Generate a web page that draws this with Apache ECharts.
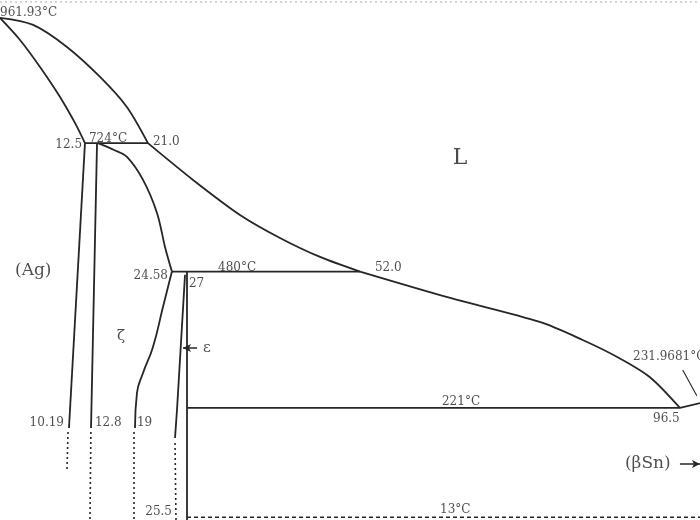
<!DOCTYPE html>
<html>
<head>
<meta charset="utf-8">
<script src="https://cdn.jsdelivr.net/npm/echarts@6/dist/echarts.min.js"></script>
<style>
html,body{margin:0;padding:0;background:#fff;}
#chart{width:700px;height:520px;}
</style>
</head>
<body>
<div id="chart"></div>
<script>
// x: at.% Sn, y: temperature (°C)
const liquidusAg = [[0,961.93],[4.7,948.6],[9.5,906.8],[14.2,849.8],[18.0,792.8],[21.0,724]];
const liquidusMid = [[21.0,724],[27.4,654.1],[34.06,587.6],[39.74,543.9],[45.42,507.8],[51.1,480]];
const liquidusSn = [[51.1,480],[63.9,429.9],[76.6,384.3],[82.7,350.1],[87.6,317.8],[92.2,279.8],[96.5,221]];
const liquidusSnEnd = [[96.5,221],[100,231.97]];
const solidusAg = [[0,961.93],[2.84,920.1],[5.68,868.8],[8.52,811.8],[10.64,762.4],[12.06,724]];
const solvusAg = [[12.06,724],[9.79,182.9]];
const solvusAgDash = [[9.65,175.3],[9.51,103.1]];
const zetaLeft = [[13.77,724],[12.92,182.9]];
const zetaLeftDash = [[12.9,175.3],[12.77,8]];
const zetaRightUpper = [[13.91,724],[16.2,711],[18.02,697.8],[20.3,654.1],[22.28,591.4],[23.42,526.8],[24.4,480]];
const zetaRightLower = [[24.4,480],[23.13,412.8],[21.71,336.8],[20.3,287.4],[19.44,249.4],[19.16,183]];
const zetaRightDash = [[19.02,175.3],[19.02,8]];
const epsLeft = [[26.26,474],[25.12,217.1],[24.84,163.9]];
const epsLeftDash = [[24.84,154.4],[24.98,8]];
const epsRight = [[26.54,480],[26.54,5]];
const line724 = [[12.06,724],[21.0,724]];
const line480 = [[24.4,480],[51.1,480]];
const line221 = [[26.54,221],[96.5,221]];
const line13 = [[26.54,13],[100,13]];
const leader232 = [[96.9,293],[98.9,244]];
const frameTop = [[0,992.3],[100,992.3]];

const labelTexts = ['961.93°C','12.5','724°C','21.0','L','(Ag)','24.58','480°C','52.0','27','ζ','ε','231.9681°C','221°C','96.5','10.19','12.8','19','(βSn)','25.5','13°C'];
const labelAnchors = [[0,971.4],[11.64,720.6],[12.63,732],[21.7,726],[65.3,695.9],[2.13,481.2],[23.84,471.7],[30.94,486.9],[53.22,486.9],[26.82,456.5],[17.17,357.7],[28.81,334.9],[89.84,317.8],[62.73,232.4],[92.68,200],[9.08,192.4],[13.48,192.4],[19.44,192.4],[88.7,114.5],[24.41,23.3],[62.45,27.1]];
const labelAligns = ['left','right','left','left','center','left','right','left','left','left','center','left','left','left','left','right','left','left','left','right','left'];
const arrows = [[[27.96,334.9],[25.97,334.9]],[[96.5,114.5],[99.35,114.5]]];

const INK = '#262626';
const TEXT = '#1e1e1e';
function solid(data, smooth){
  return {type:'line', data, showSymbol:false, symbol:'none', smooth: smooth||false, silent:true,
    lineStyle:{color:INK, width:1.8}, clip:true};
}
function dashed(data, pattern, w, color){
  return {type:'line', data, showSymbol:false, symbol:'none', silent:true,
    lineStyle:{color:color||INK, width:w||1.6, type:pattern||[2,3]}, clip:true};
}
function labelSize(t){
  if (t==='L') return 22;
  if (t==='(Ag)'||t==='(βSn)') return 17;
  if (t==='ζ'||t==='ε') return 15;
  return 12;
}

const series = [
  solid(liquidusAg, 0.3), solid(liquidusMid, 0.3), solid(liquidusSn, 0.3), solid(liquidusSnEnd),
  solid(solidusAg, 0.3), solid(solvusAg), solid(zetaLeft), solid(zetaRightUpper, 0.35), solid(zetaRightLower, 0.5),
  solid(epsLeft), solid(epsRight), solid(line724), solid(line480), solid(line221),
  {type:'line', data: leader232, showSymbol:false, symbol:'none', silent:true, lineStyle:{color:INK,width:1.1}},
  dashed(solvusAgDash), dashed(zetaLeftDash), dashed(zetaRightDash), dashed(epsLeftDash),
  dashed(line13, [4,3], 1.5),
  dashed(frameTop, [2,3], 1, '#aaa'),
  {type:'scatter', symbolSize:0, silent:true,
    data: labelTexts.map((t,i)=>({
      value: labelAnchors[i],
      label:{show:true, formatter:t, position:'inside', align:labelAligns[i], verticalAlign:'middle',
        color:TEXT, fontFamily:'DejaVu Serif', fontSize: labelSize(t)}
    }))
  },
  {type:'line', data:[], silent:true,
    markLine:{silent:true, symbol:['none','arrow'], symbolSize:[6,8], label:{show:false},
      lineStyle:{color:INK, width:1.5, type:'solid'},
      data: arrows.map(a=>[{coord:a[0]},{coord:a[1]}])}
  }
];

const chart = echarts.init(document.getElementById('chart'), null, {renderer:'canvas'});
chart.setOption({
  animation:false,
  backgroundColor:'#fff',
  grid:{left:0,right:0,top:0,bottom:0},
  xAxis:{type:'value', min:0, max:99.35, show:false},
  yAxis:{type:'value', min:8, max:996, show:false},
  series
});
</script>
</body>
</html>
